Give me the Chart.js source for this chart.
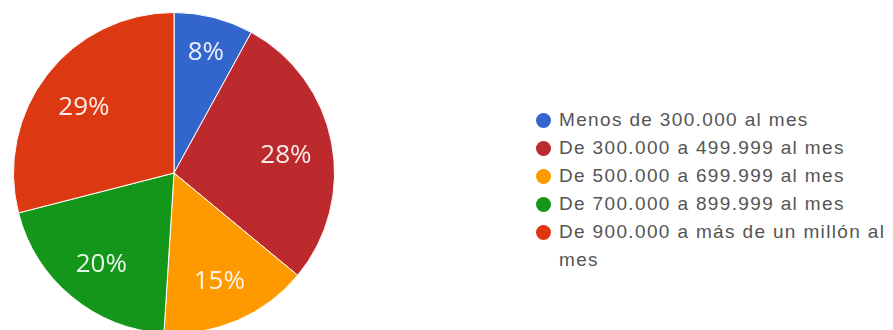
<!DOCTYPE html>
<html>
<head>
<meta charset="utf-8">
<script src="https://cdn.jsdelivr.net/npm/chart.js@4/dist/chart.umd.min.js"></script>
<style>
  html, body { margin: 0; padding: 0; background: #fff; }
  #wrap { position: relative; width: 893px; height: 330px; overflow: hidden; }
  #pie { position: absolute; left: 13px; top: 12px; }
  #legend {
    position: absolute; left: 536px; top: 106px; width: 380px;
    list-style: none; margin: 0; padding: 0;
    font: 19px "Liberation Sans", Arial, sans-serif; letter-spacing: 1.35px;
    color: #555; line-height: 28px;
  }
  #legend li { display: flex; align-items: flex-start; }
  #legend .dot { flex: none; width: 15px; height: 15px; border-radius: 50%; margin: 7px 8px 0 0; }
  #legend .txt { width: 345px; }
</style>
</head>
<body>
<div id="wrap">
  <canvas id="pie" width="322" height="322"></canvas>
  <ul id="legend"></ul>
</div>
<script>
// ingresos mensuales, porcentaje de respuestas
const categorias = [
  'Menos de 300.000 al mes',
  'De 300.000 a 499.999 al mes',
  'De 500.000 a 699.999 al mes',
  'De 700.000 a 899.999 al mes',
  'De 900.000 a más de un millón al mes'
];
const porcentajes = [8, 28, 15, 20, 29];
const colores = ['#3366cc', '#bd2a2e', '#ff9900', '#139619', '#dc3912'];

// etiquetas de porcentaje dentro de cada porción
const etiquetas = {
  id: 'etiquetas',
  afterDatasetsDraw(chart) {
    const ctx = chart.ctx;
    const meta = chart.getDatasetMeta(0);
    ctx.save();
    ctx.font = '26px "Open Sans", sans-serif';
    ctx.fillStyle = 'rgba(255,255,255,0.9)';
    ctx.textAlign = 'center';
    ctx.textBaseline = 'middle';
    meta.data.forEach((arc, i) => {
      const p = arc.getProps(['x', 'y', 'startAngle', 'endAngle', 'outerRadius'], true);
      const mid = (p.startAngle + p.endAngle) / 2;
      const f = porcentajes[i] < 10 ? 0.8 : 0.71;
      const r = p.outerRadius * f;
      ctx.fillText(porcentajes[i] + '%', p.x + Math.cos(mid) * r, p.y + Math.sin(mid) * r + 4);
    });
    ctx.restore();
  }
};

const chart = new Chart(document.getElementById('pie').getContext('2d'), {
  type: 'pie',
  data: {
    labels: categorias,
    datasets: [{
      data: porcentajes,
      backgroundColor: colores,
      borderColor: '#ffffff',
      borderWidth: 1,
      hoverOffset: 0
    }]
  },
  options: {
    responsive: false,
    animation: false,
    layout: { padding: 0 },
    plugins: {
      legend: { display: false },
      tooltip: { enabled: false }
    }
  },
  plugins: [etiquetas]
});

// leyenda en HTML a partir de los datos del gráfico
const ul = document.getElementById('legend');
chart.data.labels.forEach((txt, i) => {
  const li = document.createElement('li');
  const dot = document.createElement('span');
  dot.className = 'dot';
  dot.style.background = colores[i];
  const span = document.createElement('span');
  span.className = 'txt';
  span.textContent = txt;
  li.appendChild(dot);
  li.appendChild(span);
  ul.appendChild(li);
});
</script>
</body>
</html>
